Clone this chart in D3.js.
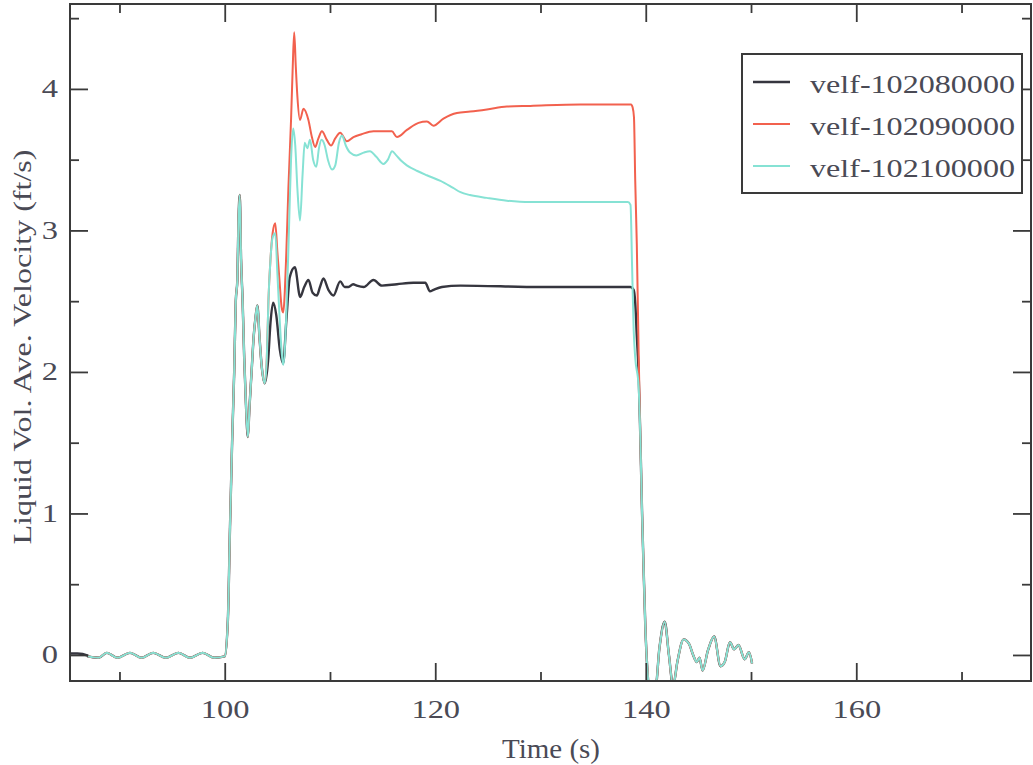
<!DOCTYPE html>
<html>
<head>
<meta charset="utf-8">
<script src="https://cdn.jsdelivr.net/npm/d3@7"></script>
<style>
  body { margin: 0; background: #fff; }
  text { font-family: "Liberation Serif", "DejaVu Serif", serif; fill: #4a4a55; }
</style>
</head>
<body>
<div id="chart"></div>
<script>
// axis ticks
var xMajor = [100, 120, 140, 160];
var xMinor = [90, 110, 130, 150, 170];
var yMajor = [0, 1, 2, 3, 4];
var yMinor = [0.5, 1.5, 2.5, 3.5, 4.5];

// series names
var seriesNames = ["velf-102080000", "velf-102090000", "velf-102100000"];

// [time (s), velocity (ft/s)]
var blackStart = [[85.0, 0.01], [86.0, 0.01], [87.0, -0.005]];
var baseline = [[87.0, -0.01], [88.0, -0.02], [88.8, 0.015], [89.8, -0.02], [91.0, 0.015], [92.1, -0.02],
  [93.2, 0.015], [94.4, -0.02], [95.6, 0.015], [96.7, -0.02], [97.9, 0.015], [99.0, -0.02], [100.0, -0.01]];
var rise = [[100.3, 0.25], [100.5, 0.9], [100.7, 1.5], [100.9, 2.0], [101.05, 2.5], [101.2, 2.65], [101.3, 3.05],
  [101.43, 3.25], [101.55, 2.8], [101.7, 2.5], [101.85, 2.1], [102.0, 1.8], [102.2, 1.54], [102.35, 1.75],
  [102.55, 2.0], [102.75, 2.25], [102.95, 2.4], [103.1, 2.47], [103.3, 2.25], [103.5, 2.05], [103.8, 1.92]];
var riseCommon = [[104.0, 2.1], [104.15, 2.5], [104.35, 2.8]];
var blackMid = [[104.12, 2.08], [104.35, 2.35], [104.6, 2.49], [104.9, 2.4], [105.23, 2.16], [105.55, 2.06],
  [105.86, 2.37], [106.18, 2.67], [106.66, 2.74], [107.17, 2.53], [107.55, 2.6], [107.95, 2.65], [108.35, 2.56],
  [108.75, 2.54], [109.05, 2.6], [109.38, 2.66], [109.85, 2.58], [110.33, 2.54], [110.97, 2.64], [111.4, 2.6],
  [111.75, 2.6], [112.2, 2.62], [112.55, 2.61], [113.2, 2.6], [114.13, 2.65], [114.93, 2.61], [116.36, 2.62],
  [117.93, 2.63], [119.05, 2.63], [119.5, 2.57], [119.83, 2.58], [120.63, 2.6], [122.4, 2.61], [130.0, 2.6],
  [138.55, 2.6], [138.85, 2.58], [139.0, 2.49], [139.15, 2.25], [139.32, 2.0], [139.48, 1.55]];
var redMid = [[104.55, 2.98], [104.8, 3.05], [105.0, 2.85], [105.2, 2.65], [105.4, 2.46], [105.55, 2.42],
  [105.85, 2.84], [106.05, 3.3], [106.3, 3.78], [106.45, 4.13], [106.6, 4.4], [106.75, 4.16], [106.9, 3.95],
  [107.15, 3.78], [107.48, 3.86], [107.95, 3.78], [108.28, 3.66], [108.59, 3.59], [108.9, 3.65], [109.23, 3.7],
  [109.7, 3.64], [110.1, 3.6], [110.5, 3.65], [110.97, 3.69], [111.6, 3.63], [112.23, 3.66], [113.0, 3.68],
  [114.13, 3.7], [115.0, 3.7], [115.88, 3.7], [116.36, 3.66], [117.31, 3.71], [118.41, 3.76], [119.21, 3.77],
  [119.83, 3.74], [120.78, 3.79], [122.06, 3.83], [123.32, 3.84], [124.91, 3.855], [126.81, 3.875],
  [129.03, 3.88], [133.78, 3.89], [138.6, 3.89], [138.75, 3.87], [138.88, 3.8], [139.0, 3.35], [139.15, 2.9],
  [139.32, 2.15], [139.48, 1.55]];
var cyanMid = [[104.55, 2.95], [104.8, 2.98], [105.0, 2.7], [105.2, 2.4], [105.4, 2.15], [105.55, 2.05],
  [105.85, 2.4], [106.1, 3.0], [106.3, 3.5], [106.5, 3.72], [106.7, 3.6], [106.9, 3.3], [107.15, 3.07],
  [107.4, 3.4], [107.6, 3.62], [107.85, 3.58], [108.1, 3.64], [108.4, 3.5], [108.7, 3.45], [108.95, 3.58],
  [109.2, 3.64], [109.5, 3.6], [109.8, 3.5], [110.2, 3.43], [110.5, 3.46], [110.85, 3.62], [111.15, 3.67],
  [111.5, 3.6], [111.9, 3.55], [112.5, 3.53], [113.2, 3.55], [113.8, 3.56], [114.4, 3.52], [115.08, 3.47],
  [115.5, 3.5], [115.9, 3.56], [116.3, 3.53], [116.8, 3.49], [117.3, 3.46], [118.3, 3.42], [119.2, 3.39],
  [120.5, 3.35], [121.7, 3.3], [122.4, 3.27], [123.3, 3.25], [124.9, 3.23], [126.8, 3.21], [129.0, 3.2],
  [133.0, 3.2], [138.3, 3.2], [138.55, 3.18], [138.7, 2.75], [138.85, 2.3], [139.0, 2.1], [139.32, 1.9],
  [139.48, 1.55]];
var tail = [[139.65, 1.0], [139.8, 0.6], [139.96, 0.2], [140.15, -0.1], [140.35, -0.25], [140.9, -0.25],
  [141.3, 0.05], [141.8, 0.235], [142.2, 0.0], [142.6, -0.22], [143.0, -0.05], [143.6, 0.11], [144.1, 0.08],
  [144.5, 0.0], [144.85, -0.05], [145.1, -0.02], [145.4, -0.11], [145.9, 0.03], [146.5, 0.13], [147.1, -0.08],
  [147.5, -0.05], [148.0, 0.09], [148.4, 0.04], [148.8, 0.07], [149.4, -0.03], [149.8, 0.02], [150.1, -0.06]];

var blackData = blackStart.concat(baseline, rise, blackMid, tail);
var redData = baseline.concat(rise, riseCommon, redMid, tail);
var cyanData = baseline.concat(rise, riseCommon, cyanMid, tail);

var Width = 1033, Height = 765;
var pLeft = 70, pRight = 1031, pTop = 4, pBottom = 681;

var svg = d3.select("#chart").append("svg")
  .attr("width", Width).attr("height", Height);

var x = d3.scaleLinear().domain([85.3, 176.6]).range([pLeft, pRight]);
var y = d3.scaleLinear().domain([-0.184, 4.60]).range([pBottom, pTop]);

svg.append("clipPath").attr("id", "plotclip")
  .append("rect").attr("x", pLeft).attr("y", pTop)
  .attr("width", pRight - pLeft).attr("height", pBottom - pTop);

// lines
var line = d3.line()
  .x(function(d) { return x(d[0]); })
  .y(function(d) { return y(d[1]); })
  .curve(d3.curveMonotoneX);

var series = [
  {name: seriesNames[0], data: blackData, color: "#36363f", width: 2.4},
  {name: seriesNames[1], data: redData, color: "#f2614e", width: 2.0},
  {name: seriesNames[2], data: cyanData, color: "#86e2d4", width: 2.0}
];

svg.append("g").attr("clip-path", "url(#plotclip)")
  .selectAll("path").data(series).enter()
  .append("path")
  .attr("d", function(d) { return line(d.data); })
  .attr("fill", "none")
  .attr("stroke", function(d) { return d.color; })
  .attr("stroke-width", function(d) { return d.width; })
  .attr("stroke-linejoin", "round");

// ticks on all four sides, pointing inward
function styleAxis(g) {
  g.select(".domain").remove();
  g.selectAll("line").attr("stroke", "#3a3a3a").attr("stroke-width", 1.8);
}

svg.append("g").attr("transform", "translate(0," + pBottom + ")")
  .call(d3.axisBottom(x).tickValues(xMajor).tickSizeInner(-18).tickSizeOuter(0).tickPadding(19)
    .tickFormat(d3.format("d")))
  .call(styleAxis)
  .call(function(g) {
    g.selectAll("text").attr("font-size", 25).attr("fill", "#555560")
      .attr("transform", "scale(1.3,1)");
  });
svg.append("g").attr("transform", "translate(0," + pBottom + ")")
  .call(d3.axisBottom(x).tickValues(xMinor).tickSize(-9).tickFormat(""))
  .call(styleAxis);
svg.append("g").attr("transform", "translate(0," + pTop + ")")
  .call(d3.axisTop(x).tickValues(xMajor).tickSize(-18).tickFormat(""))
  .call(styleAxis);
svg.append("g").attr("transform", "translate(0," + pTop + ")")
  .call(d3.axisTop(x).tickValues(xMinor).tickSize(-9).tickFormat(""))
  .call(styleAxis);

svg.append("g").attr("transform", "translate(" + pLeft + ",0)")
  .call(d3.axisLeft(y).tickValues(yMajor).tickSizeInner(-18).tickSizeOuter(0).tickPadding(0)
    .tickFormat(d3.format("d")))
  .call(styleAxis)
  .call(function(g) {
    g.selectAll("text").attr("font-size", 25).attr("fill", "#555560")
      .attr("x", 0).attr("transform", "translate(-12,0) scale(1.3,1)");
  });
svg.append("g").attr("transform", "translate(" + pLeft + ",0)")
  .call(d3.axisLeft(y).tickValues(yMinor).tickSize(-9).tickFormat(""))
  .call(styleAxis);
svg.append("g").attr("transform", "translate(" + pRight + ",0)")
  .call(d3.axisRight(y).tickValues(yMajor).tickSize(-18).tickFormat(""))
  .call(styleAxis);
svg.append("g").attr("transform", "translate(" + pRight + ",0)")
  .call(d3.axisRight(y).tickValues(yMinor).tickSize(-9).tickFormat(""))
  .call(styleAxis);

// frame
svg.append("rect")
  .attr("x", pLeft).attr("y", pTop)
  .attr("width", pRight - pLeft).attr("height", pBottom - pTop)
  .attr("fill", "none").attr("stroke", "#3a3a3a").attr("stroke-width", 2);

// axis titles
svg.append("text")
  .attr("x", 551).attr("y", 758)
  .attr("text-anchor", "middle")
  .attr("font-size", 28)
  .attr("fill", "#555560")
  .attr("textLength", 98).attr("lengthAdjust", "spacingAndGlyphs")
  .text("Time (s)");

svg.append("text")
  .attr("transform", "translate(31,347) rotate(-90)")
  .attr("text-anchor", "middle")
  .attr("font-size", 26)
  .attr("fill", "#555560")
  .attr("textLength", 395).attr("lengthAdjust", "spacingAndGlyphs")
  .text("Liquid Vol. Ave. Velocity (ft/s)");

// legend
var legend = svg.append("g");
legend.append("rect")
  .attr("x", 742).attr("y", 54).attr("width", 280).attr("height", 139)
  .attr("fill", "#fff").attr("stroke", "#3a3a3a").attr("stroke-width", 2);

var rows = legend.selectAll(".row").data(series).enter()
  .append("g").attr("class", "row")
  .attr("transform", function(d, i) { return "translate(0," + (82 + i * 42) + ")"; });
rows.append("line")
  .attr("x1", 753).attr("x2", 790)
  .attr("stroke", function(d) { return d.color; })
  .attr("stroke-width", function(d) { return d.width; });
rows.append("text")
  .attr("x", 810).attr("y", 11)
  .attr("font-size", 26)
  .attr("textLength", 205).attr("lengthAdjust", "spacingAndGlyphs")
  .text(function(d) { return d.name; });
</script>
</body>
</html>
